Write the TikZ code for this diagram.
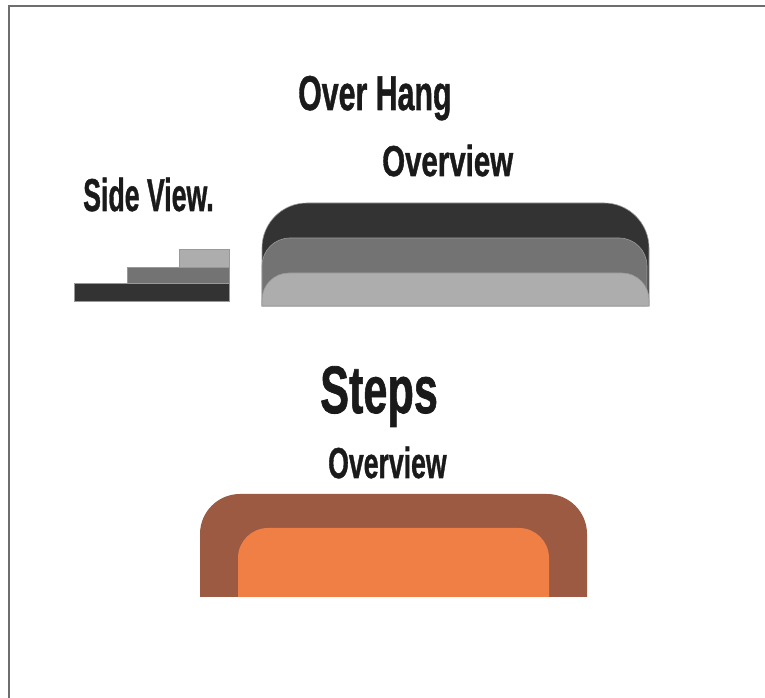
\documentclass[tikz,border=0pt]{standalone}
\usepackage{fontspec}
\usepackage{graphicx}
\setmainfont{Liberation Sans}
\newfontfamily\labelfont[FakeBold=1.2]{Liberation Sans Bold}
\newcommand{\condtext}[3]{\scalebox{#2}[1]{\labelfont\fontsize{#1}{#1}\selectfont #3}}
\definecolor{txt}{HTML}{1A1A1A}
\definecolor{darkgray}{HTML}{333333}
\definecolor{midgray}{HTML}{737373}
\definecolor{lightgray}{HTML}{ADADAD}
\definecolor{edgegray}{HTML}{999999}
\definecolor{framegray}{HTML}{6E6E6E}
\definecolor{brownlayer}{HTML}{9C5A43}
\definecolor{orangelayer}{HTML}{F07F45}
\tikzset{
  title/.style={inner sep=0pt, anchor=base west, text=txt},
  layer/.style={draw=edgegray, line width=0.6pt},
}
\begin{document}
\begin{tikzpicture}[x=1pt,y=1pt]
\useasboundingbox (0,0) rectangle (765,698);
\fill[white] (0,0) rectangle (765,698);
% frame
\draw[framegray, line width=2pt] (8.5,0) -- (8.5,691.5) -- (765,691.5);

% titles
\node[title] (overhang) at (298,588) {\condtext{48.9pt}{0.62}{Over Hang}};
\node[title] (ovtop) at (382,522) {\condtext{43.3pt}{0.68}{Overview}};
\node[title] (side) at (83,487) {\condtext{46pt}{0.58}{Side View.}};
\node[title] (steps) at (320,285) {\condtext{67pt}{0.645}{Steps}};
\node[title] (ovbot) at (328,220) {\condtext{43.3pt}{0.615}{Overview}};

% side view
\fill[darkgray, layer] (74,397) rectangle (229,415);
\fill[midgray, layer] (127,415) rectangle (229,431);
\fill[lightgray, layer] (179,431) rectangle (229,449);

% over hang overview
\fill[darkgray, layer] (262,392) -- (262,450) arc[start angle=180,end angle=90,radius=45]
  -- (604,495) arc[start angle=90,end angle=0,radius=45] -- (649,392) -- cycle;
\fill[midgray, layer] (262,392) -- (262,432) arc[start angle=180,end angle=90,radius=28]
  -- (619,460) arc[start angle=90,end angle=0,radius=28] -- (647,392) -- cycle;
\fill[lightgray, layer] (262,392) -- (262,398) arc[start angle=180,end angle=90,radius=27]
  -- (622,425) arc[start angle=90,end angle=0,radius=27] -- (649,392) -- cycle;

% steps overview
\fill[brownlayer] (200,101) -- (200,164) arc[start angle=180,end angle=90,radius=40]
  -- (547,204) arc[start angle=90,end angle=0,radius=40] -- (587,101) -- cycle;
\fill[orangelayer] (238,101) -- (238,140) arc[start angle=180,end angle=90,radius=30]
  -- (519,170) arc[start angle=90,end angle=0,radius=30] -- (549,101) -- cycle;
\end{tikzpicture}
\end{document}
